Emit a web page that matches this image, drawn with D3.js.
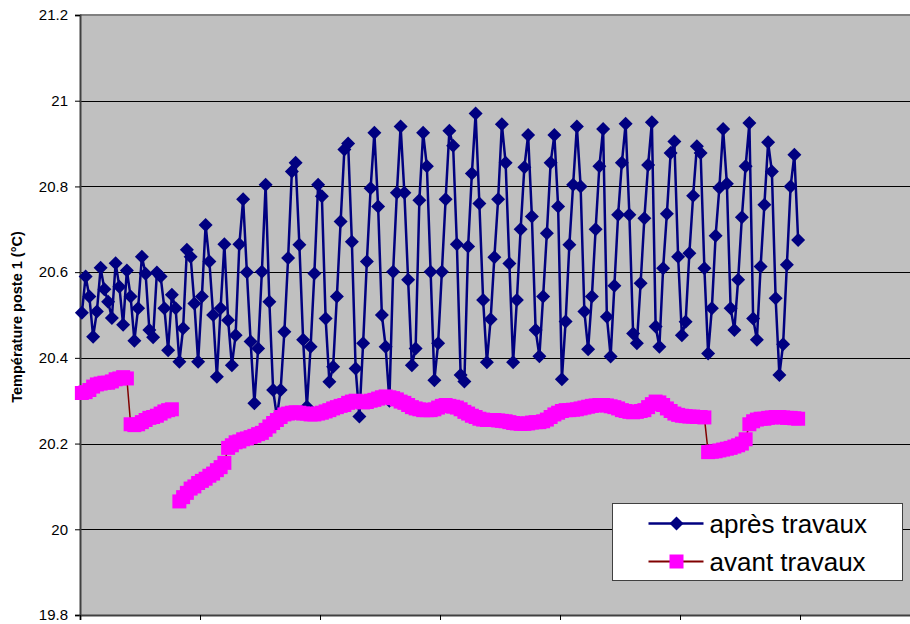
<!DOCTYPE html>
<html>
<head>
<meta charset="utf-8">
<script src="https://cdn.jsdelivr.net/npm/d3@7"></script>
<style>
  html, body { margin: 0; padding: 0; background: #ffffff; }
  svg { display: block; font-family: "Liberation Sans", Arial, sans-serif; }
</style>
</head>
<body>
<svg id="chart" width="910" height="624"></svg>
<script>
// Temperature readings, one value per time step (shared category axis)
const apresTravaux = [
  20.505, 20.59, 20.543, 20.449, 20.508, 20.61, 20.56, 20.531, 20.493, 20.621,
  20.566, 20.477, 20.604, 20.543, 20.44, 20.516, 20.636, 20.596, 20.465, 20.448,
  20.599, 20.59, 20.516, 20.418, 20.547, 20.516, 20.391, 20.469, 20.652, 20.636,
  20.527, 20.391, 20.543, 20.71, 20.625, 20.5, 20.356, 20.516,
  20.665, 20.488, 20.383, 20.453, 20.665, 20.77, 20.6, 20.438, 20.294, 20.422,
  20.601, 20.804, 20.531, 20.325, 20.263, 20.325, 20.461, 20.633, 20.835, 20.855,
  20.664, 20.442, 20.286, 20.426, 20.597, 20.804, 20.777, 20.492, 20.344, 20.379,
  20.543, 20.718, 20.886, 20.90, 20.671, 20.375, 20.263, 20.434, 20.625, 20.796,
  20.925, 20.753,
  20.5, 20.426, 20.30, 20.601, 20.785, 20.94, 20.785, 20.582, 20.383, 20.422,
  20.768, 20.925, 20.847, 20.601, 20.348, 20.434, 20.601, 20.77, 20.93, 20.895,
  20.665, 20.36, 20.345, 20.66, 20.83, 20.97, 20.76, 20.535, 20.39, 20.49,
  20.635, 20.77, 20.945, 20.855, 20.62, 20.39, 20.535, 20.70, 20.845, 20.92,
  20.73, 20.465, 20.404, 20.543, 20.691, 20.855, 20.92, 20.753, 20.35, 20.485,
  20.664, 20.804, 20.94, 20.8, 20.508, 20.42, 20.543, 20.70, 20.847, 20.934,
  20.496, 20.403, 20.568, 20.734, 20.855, 20.946, 20.734, 20.457, 20.434, 20.574,
  20.726, 20.85, 20.95, 20.473, 20.426, 20.609, 20.736, 20.878, 20.905, 20.636,
  20.453, 20.484, 20.644, 20.778, 20.894, 20.878, 20.609, 20.41, 20.516, 20.685,
  20.797, 20.934, 20.806, 20.516, 20.465, 20.582, 20.728, 20.847, 20.948, 20.492,
  20.442, 20.613, 20.757, 20.903, 20.835, 20.539, 20.36, 20.432, 20.617, 20.80,
  20.874, 20.675
];

const avantTravaux = [
  20.318, 20.32, 20.325, 20.333, 20.338, 20.34, 20.342, 20.342, 20.345, 20.35,
  20.352, 20.355, 20.352,
  20.245, 20.243, 20.245, 20.25, 20.255, 20.26, 20.262, 20.265, 20.27, 20.275,
  20.278, 20.28,
  null,
  20.065, 20.075, 20.085, 20.095, 20.10, 20.108, 20.113, 20.118, 20.125, 20.13,
  20.138, 20.145, 20.155,
  20.19, 20.196, 20.203, 20.205, 20.21, 20.212, 20.215, 20.218, 20.222, 20.225,
  20.232, 20.24, 20.248, 20.255, 20.262, 20.268, 20.27, 20.272, 20.273, 20.272,
  20.27, 20.27, 20.268, 20.268, 20.27, 20.272, 20.275, 20.278, 20.282, 20.285,
  20.288, 20.29, 20.295, 20.298, 20.30, 20.298, 20.296, 20.297, 20.30, 20.302,
  20.305, 20.308, 20.31, 20.308, 20.306, 20.303, 20.298, 20.295, 20.29, 20.285,
  20.282, 20.28, 20.278, 20.278, 20.278, 20.28, 20.284, 20.288, 20.29, 20.288,
  20.286, 20.284, 20.28, 20.274, 20.27, 20.265, 20.262, 20.258, 20.256, 20.255,
  20.255, 20.255, 20.254, 20.253, 20.252, 20.25, 20.248, 20.247, 20.246, 20.246,
  20.247, 20.249, 20.25, 20.25, 20.252, 20.256, 20.262, 20.268, 20.272, 20.276,
  20.278, 20.278, 20.279, 20.28, 20.282, 20.284, 20.286, 20.288, 20.289, 20.29,
  20.29, 20.289, 20.287, 20.285, 20.282, 20.278, 20.276, 20.274, 20.273, 20.274,
  20.276, 20.278, 20.285, 20.292, 20.298, 20.296, 20.29, 20.282, 20.276, 20.27,
  20.267, 20.265, 20.264, 20.263, 20.263, 20.262, 20.262, 20.261,
  20.18, 20.181, 20.182, 20.184, 20.186, 20.188, 20.19, 20.193, 20.196, 20.2,
  20.21, 20.245, 20.252, 20.256, 20.258, 20.258, 20.26, 20.261, 20.262, 20.262,
  20.261, 20.26, 20.26, 20.259, 20.258
];

const yTicks = [19.8, 20, 20.2, 20.4, 20.6, 20.8, 21, 21.2];
const categoryCount = 224;      // category slots along the horizontal axis
const tickEvery = 32;           // tick mark every 32 categories
const seriesNames = ["après travaux", "avant travaux"];
const yTitle = "Température poste 1 (°C)";

const svg = d3.select("#chart");
const plot = { left: 80, top: 15, right: 920, bottom: 615 };

const x = d3.scaleLinear().domain([0, categoryCount]).range([plot.left, plot.right]);
const y = d3.scaleLinear().domain([19.8, 21.2]).range([plot.bottom, plot.top]);
const cx = i => x(i + 0.5);

// plot area
svg.append("rect")
  .attr("x", plot.left).attr("y", plot.top)
  .attr("width", plot.right - plot.left).attr("height", plot.bottom - plot.top)
  .attr("fill", "#c0c0c0");
svg.append("line")
  .attr("x1", plot.left).attr("x2", plot.right)
  .attr("y1", plot.top).attr("y2", plot.top)
  .attr("stroke", "#808080").attr("stroke-width", 2);

// horizontal gridlines
svg.append("g")
  .selectAll("line")
  .data(yTicks.filter(t => t > 19.8 && t < 21.2))
  .join("line")
  .attr("x1", plot.left).attr("x2", plot.right)
  .attr("y1", d => Math.round(y(d)) + 0.5).attr("y2", d => Math.round(y(d)) + 0.5)
  .attr("stroke", "#000").attr("stroke-width", 1);

// y axis
const yAxis = d3.axisLeft(y).tickValues(yTicks).tickSize(5).tickPadding(7)
  .tickFormat(d => d3.format("")(+d.toFixed(1)));
const gy = svg.append("g").attr("transform", `translate(${plot.left},0)`).call(yAxis);
gy.select(".domain").attr("stroke", "#404040").attr("stroke-width", 2);
gy.selectAll(".tick line").attr("stroke", "#000");
gy.selectAll(".tick text").attr("font-size", 15).attr("fill", "#000")
  .attr("font-family", "'Liberation Sans', Arial, sans-serif");

// x axis (ticks only)
const xTickVals = d3.range(0, categoryCount + 1, tickEvery);
const xAxis = d3.axisBottom(x).tickValues(xTickVals).tickSize(5).tickFormat("");
const gx = svg.append("g").attr("transform", `translate(0,${plot.bottom})`).call(xAxis);
gx.select(".domain").attr("stroke", "#404040").attr("stroke-width", 2);
gx.selectAll(".tick line").attr("stroke", "#000");

// y title
svg.append("text")
  .attr("transform", `translate(22,${(plot.top + plot.bottom) / 2 + 2}) rotate(-90)`)
  .attr("text-anchor", "middle")
  .attr("font-size", 14.5).attr("font-weight", "bold")
  .text(yTitle);

const diamond = (s) => `M0,${-s}L${s},0L0,${s}L${-s},0Z`;

// series: après travaux
const lineBlue = d3.line().x((d, i) => cx(i)).y(d => y(d));
svg.append("path")
  .datum(apresTravaux)
  .attr("d", lineBlue)
  .attr("fill", "none").attr("stroke", "#000080").attr("stroke-width", 2.5)
  .attr("stroke-linejoin", "round");
svg.append("g").selectAll("path")
  .data(apresTravaux)
  .join("path")
  .attr("transform", (d, i) => `translate(${cx(i)},${y(d)})`)
  .attr("d", diamond(7))
  .attr("fill", "#000080");

// series: avant travaux
const linePink = d3.line().defined(d => d !== null).x((d, i) => cx(i)).y(d => y(d));
svg.append("path")
  .datum(avantTravaux)
  .attr("d", linePink)
  .attr("fill", "none").attr("stroke", "#800000").attr("stroke-width", 1.5);
const sq = 14;
svg.append("g").selectAll("rect")
  .data(avantTravaux.map((v, i) => ({ v, i })).filter(d => d.v !== null))
  .join("rect")
  .attr("x", d => cx(d.i) - sq / 2).attr("y", d => y(d.v) - sq / 2)
  .attr("width", sq).attr("height", sq)
  .attr("fill", "#ff00ff");

// legend
const lg = svg.append("g").attr("transform", "translate(612.5,503.5)");
lg.append("rect").attr("width", 290).attr("height", 77)
  .attr("fill", "#fff").attr("stroke", "#404040").attr("stroke-width", 1);
const rows = [
  { name: seriesNames[0], y: 20, line: "#000080" },
  { name: seriesNames[1], y: 58, line: "#800000" }
];
rows.forEach((r, k) => {
  lg.append("line").attr("x1", 36).attr("x2", 91).attr("y1", r.y).attr("y2", r.y)
    .attr("stroke", r.line).attr("stroke-width", k === 0 ? 2.5 : 2);
  if (k === 0) {
    lg.append("path").attr("transform", `translate(64,${r.y})`).attr("d", diamond(7)).attr("fill", "#000080");
  } else {
    lg.append("rect").attr("x", 57).attr("y", r.y - 7).attr("width", 14).attr("height", 14).attr("fill", "#ff00ff");
  }
  lg.append("text").attr("x", 97).attr("y", r.y + 9)
    .attr("font-size", 26).attr("fill", "#000").text(r.name);
});
</script>
</body>
</html>
